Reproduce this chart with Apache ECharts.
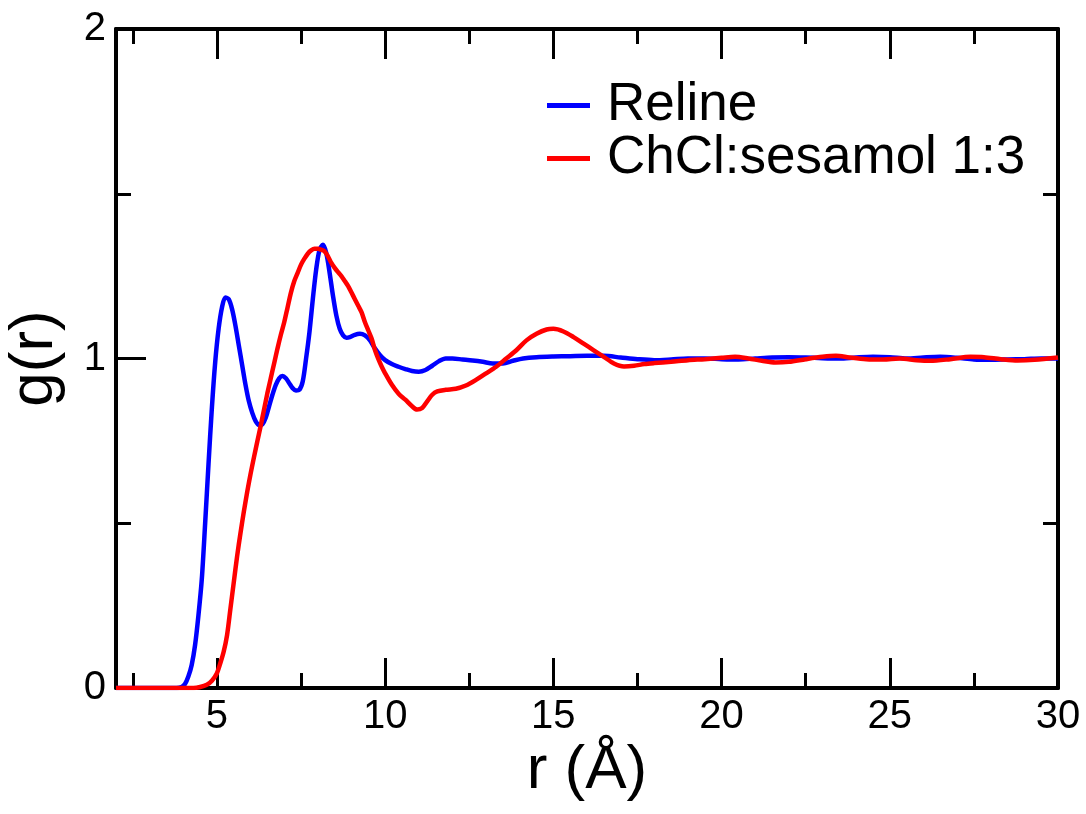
<!DOCTYPE html>
<html>
<head>
<meta charset="utf-8">
<script src="https://cdn.jsdelivr.net/npm/echarts@6/dist/echarts.min.js"></script>
<style>
html,body{margin:0;padding:0;background:#fff;}
#chart{width:1086px;height:814px;}
</style>
</head>
<body>
<div id="chart"></div>
<script>
// ---- Data ----
const seriesNames = ['Reline', 'ChCl:sesamol 1:3'];

const relineR = [2.0,3.8,3.95,4.05,4.15,4.25,4.35,4.45,4.55,4.65,4.75,4.85,4.95,5.05,5.15,5.25,5.35,5.45,5.55,5.65,5.75,5.85,5.95,6.05,6.15,6.25,6.35,6.45,6.55,6.65,6.75,6.85,6.95,7.05,7.15,7.25,7.35,7.45,7.55,7.65,7.75,7.85,7.95,8.05,8.15,8.25,8.35,8.45,8.55,8.65,8.75,8.85,8.95,9.1,9.25,9.4,9.55,9.7,9.85,10.0,10.2,10.4,10.6,10.8,11.0,11.2,11.4,11.6,11.8,12.0,12.3,12.6,12.9,13.2,13.5,13.8,14.1,14.5,15.0,15.5,16.0,16.5,17.0,17.5,18.0,18.5,19.0,19.5,20.0,20.5,21.0,21.5,22.0,22.5,23.0,23.5,24.0,24.5,25.0,25.5,26.0,26.5,27.0,27.5,28.0,28.5,29.0,29.5,30.0];
const relineG = [0,0,0.003,0.012,0.035,0.07,0.13,0.22,0.33,0.5,0.68,0.85,0.99,1.09,1.155,1.185,1.18,1.15,1.1,1.04,0.98,0.92,0.87,0.835,0.81,0.798,0.8,0.82,0.855,0.89,0.92,0.94,0.947,0.94,0.925,0.91,0.903,0.905,0.93,1.0,1.08,1.18,1.27,1.33,1.345,1.32,1.26,1.19,1.13,1.09,1.07,1.063,1.065,1.072,1.075,1.07,1.055,1.03,1.01,0.995,0.983,0.975,0.968,0.962,0.96,0.965,0.978,0.992,1.0,1.0,0.997,0.994,0.99,0.985,0.985,0.993,1.0,1.004,1.006,1.007,1.008,1.008,1.003,0.998,0.995,0.997,1.0,1.0,0.998,0.997,1.0,1.003,1.004,1.003,1.001,1.0,1.003,1.005,1.004,1.0,1.003,1.005,1.002,0.997,0.996,0.997,0.998,1.0,1.0];

const sesamolR = [2.0,4.3,4.5,4.7,4.85,5.0,5.1,5.2,5.3,5.4,5.5,5.6,5.7,5.8,5.9,6.0,6.1,6.2,6.3,6.4,6.5,6.6,6.7,6.8,6.9,7.0,7.1,7.2,7.3,7.4,7.5,7.6,7.7,7.8,7.9,8.0,8.1,8.2,8.3,8.4,8.5,8.6,8.7,8.8,8.9,9.0,9.1,9.2,9.3,9.4,9.5,9.6,9.7,9.8,9.9,10.0,10.2,10.4,10.6,10.8,10.95,11.1,11.25,11.4,11.55,11.8,12.1,12.4,12.7,13.0,13.3,13.6,13.9,14.2,14.5,14.8,15.0,15.3,15.6,15.9,16.2,16.5,16.8,17.1,17.4,17.7,18.0,18.5,19.0,19.5,20.0,20.4,20.8,21.2,21.6,22.0,22.5,23.0,23.4,23.8,24.3,24.8,25.3,25.8,26.2,26.8,27.4,27.8,28.3,28.8,29.3,30.0];
const sesamolG = [0,0,0.003,0.01,0.022,0.045,0.075,0.11,0.16,0.24,0.32,0.4,0.47,0.535,0.595,0.65,0.7,0.748,0.795,0.845,0.895,0.94,0.985,1.03,1.072,1.11,1.155,1.2,1.235,1.26,1.285,1.303,1.318,1.328,1.333,1.333,1.33,1.325,1.31,1.29,1.275,1.262,1.25,1.235,1.22,1.2,1.18,1.16,1.14,1.11,1.085,1.06,1.025,0.998,0.975,0.955,0.92,0.893,0.875,0.855,0.845,0.85,0.87,0.89,0.9,0.905,0.908,0.918,0.935,0.955,0.975,1.0,1.025,1.055,1.075,1.088,1.09,1.082,1.065,1.045,1.025,1.005,0.985,0.976,0.978,0.983,0.986,0.99,0.995,0.998,1.002,1.005,1.0,0.993,0.988,0.99,0.998,1.005,1.008,1.003,0.998,0.997,1.0,0.995,0.993,0.998,1.005,1.004,0.998,0.994,0.996,1.003];

const xRange = [2, 30];
const xMajor = { min: 5, max: 30, step: 5 };     // major ticks + labels
const xMinor = { min: 2.5, max: 30, step: 2.5 }; // short ticks (majors overdraw every second)
const yRange = [0, 2];
const xTitle = 'r (Å)';
const yTitle = 'g(r)';

// ---- Chart ----
const FONT = '"Liberation Sans", Arial, Helvetica, sans-serif';
const pairs = (xs, ys) => xs.map((x, i) => [x, ys[i]]);

const G = { left: 116, right: 28, top: 29, bottom: 126 };
const W = 1086 - G.left - G.right;
const ppu = W / (xRange[1] - xRange[0]);
const gridAt = (lo, hi) => ({
  left: G.left + (lo - xRange[0]) * ppu,
  right: G.right + (xRange[1] - hi) * ppu,
  top: G.top, bottom: G.bottom, containLabel: false, outerBoundsMode: 'none'
});

const black = '#000';
const frameLine = { show: true, onZero: false, lineStyle: { color: black, width: 4 } };
const tickStyle = { color: black, width: 3 };
const MAJOR = 30, MINOR = 15;

function tickX(gridIndex, pos, spec, len, withLabels) {
  return {
    type: 'value', gridIndex, position: pos, min: spec.min, max: spec.max, interval: spec.step,
    splitLine: { show: false },
    axisLine: { show: false, onZero: false },
    axisTick: { show: true, inside: true, length: len, lineStyle: tickStyle },
    axisLabel: withLabels ? { show: true, color: black, fontSize: 40, fontFamily: FONT, margin: 9 } : { show: false }
  };
}
const hiddenY = (gridIndex) => ({ type: 'value', gridIndex, min: yRange[0], max: yRange[1], show: false });

function frameY(pos, withLabels, extra) {
  return Object.assign({
    type: 'value', gridIndex: 0, position: pos, min: yRange[0], max: yRange[1], interval: 1,
    splitLine: { show: false },
    axisLine: frameLine,
    axisTick: { show: true, inside: true, length: MAJOR, lineStyle: tickStyle },
    minorTick: { show: true, splitNumber: 2, length: MINOR, lineStyle: tickStyle },
    minorSplitLine: { show: false },
    axisLabel: withLabels ? { show: true, color: black, fontSize: 40, fontFamily: FONT, margin: 10 } : { show: false }
  }, extra || {});
}
function frameX(pos, extra) {
  return Object.assign({
    type: 'value', gridIndex: 0, position: pos, min: xRange[0], max: xRange[1],
    splitLine: { show: false }, axisLine: frameLine, axisTick: { show: false }, axisLabel: { show: false }
  }, extra || {});
}

const chart = echarts.init(document.getElementById('chart'), null, { renderer: 'canvas' });
chart.setOption({
  backgroundColor: '#fff',
  animation: false,
  grid: [
    Object.assign({ containLabel: false, outerBoundsMode: 'none' }, G),
    gridAt(xMajor.min, xMajor.max),
    gridAt(xMinor.min, xMinor.max)
  ],
  legend: {
    data: seriesNames, orient: 'vertical', left: 542, top: 74,
    icon: 'rect', itemWidth: 43, itemHeight: 5, itemGap: 0,
    textStyle: { color: black, fontSize: 53, fontFamily: FONT, lineHeight: 50, padding: [0, 0, 0, 12] }
  },
  xAxis: [
    frameX('bottom', {
      name: xTitle, nameLocation: 'middle', nameGap: 52,
      nameTextStyle: { color: black, fontSize: 62, fontFamily: FONT }
    }),
    frameX('top'),
    tickX(1, 'bottom', xMajor, MAJOR, true),
    tickX(1, 'top', xMajor, MAJOR, false),
    tickX(2, 'bottom', xMinor, MINOR, false),
    tickX(2, 'top', xMinor, MINOR, false)
  ],
  yAxis: [
    frameY('left', true, {
      name: yTitle, nameLocation: 'middle', nameGap: 50, nameRotate: 90,
      nameTextStyle: { color: black, fontSize: 62, fontFamily: FONT }
    }),
    frameY('right', false),
    hiddenY(1),
    hiddenY(2)
  ],
  series: [
    {
      name: seriesNames[0], type: 'line', xAxisIndex: 0, yAxisIndex: 0,
      data: pairs(relineR, relineG), showSymbol: false, symbol: 'none', smooth: 0.3,
      lineStyle: { color: '#0000ff', width: 4.5 }, itemStyle: { color: '#0000ff' }, z: 3
    },
    {
      name: seriesNames[1], type: 'line', xAxisIndex: 0, yAxisIndex: 0,
      data: pairs(sesamolR, sesamolG), showSymbol: false, symbol: 'none', smooth: 0.3,
      lineStyle: { color: '#ff0000', width: 4.5 }, itemStyle: { color: '#ff0000' }, z: 4
    }
  ]
});
</script>
</body>
</html>
